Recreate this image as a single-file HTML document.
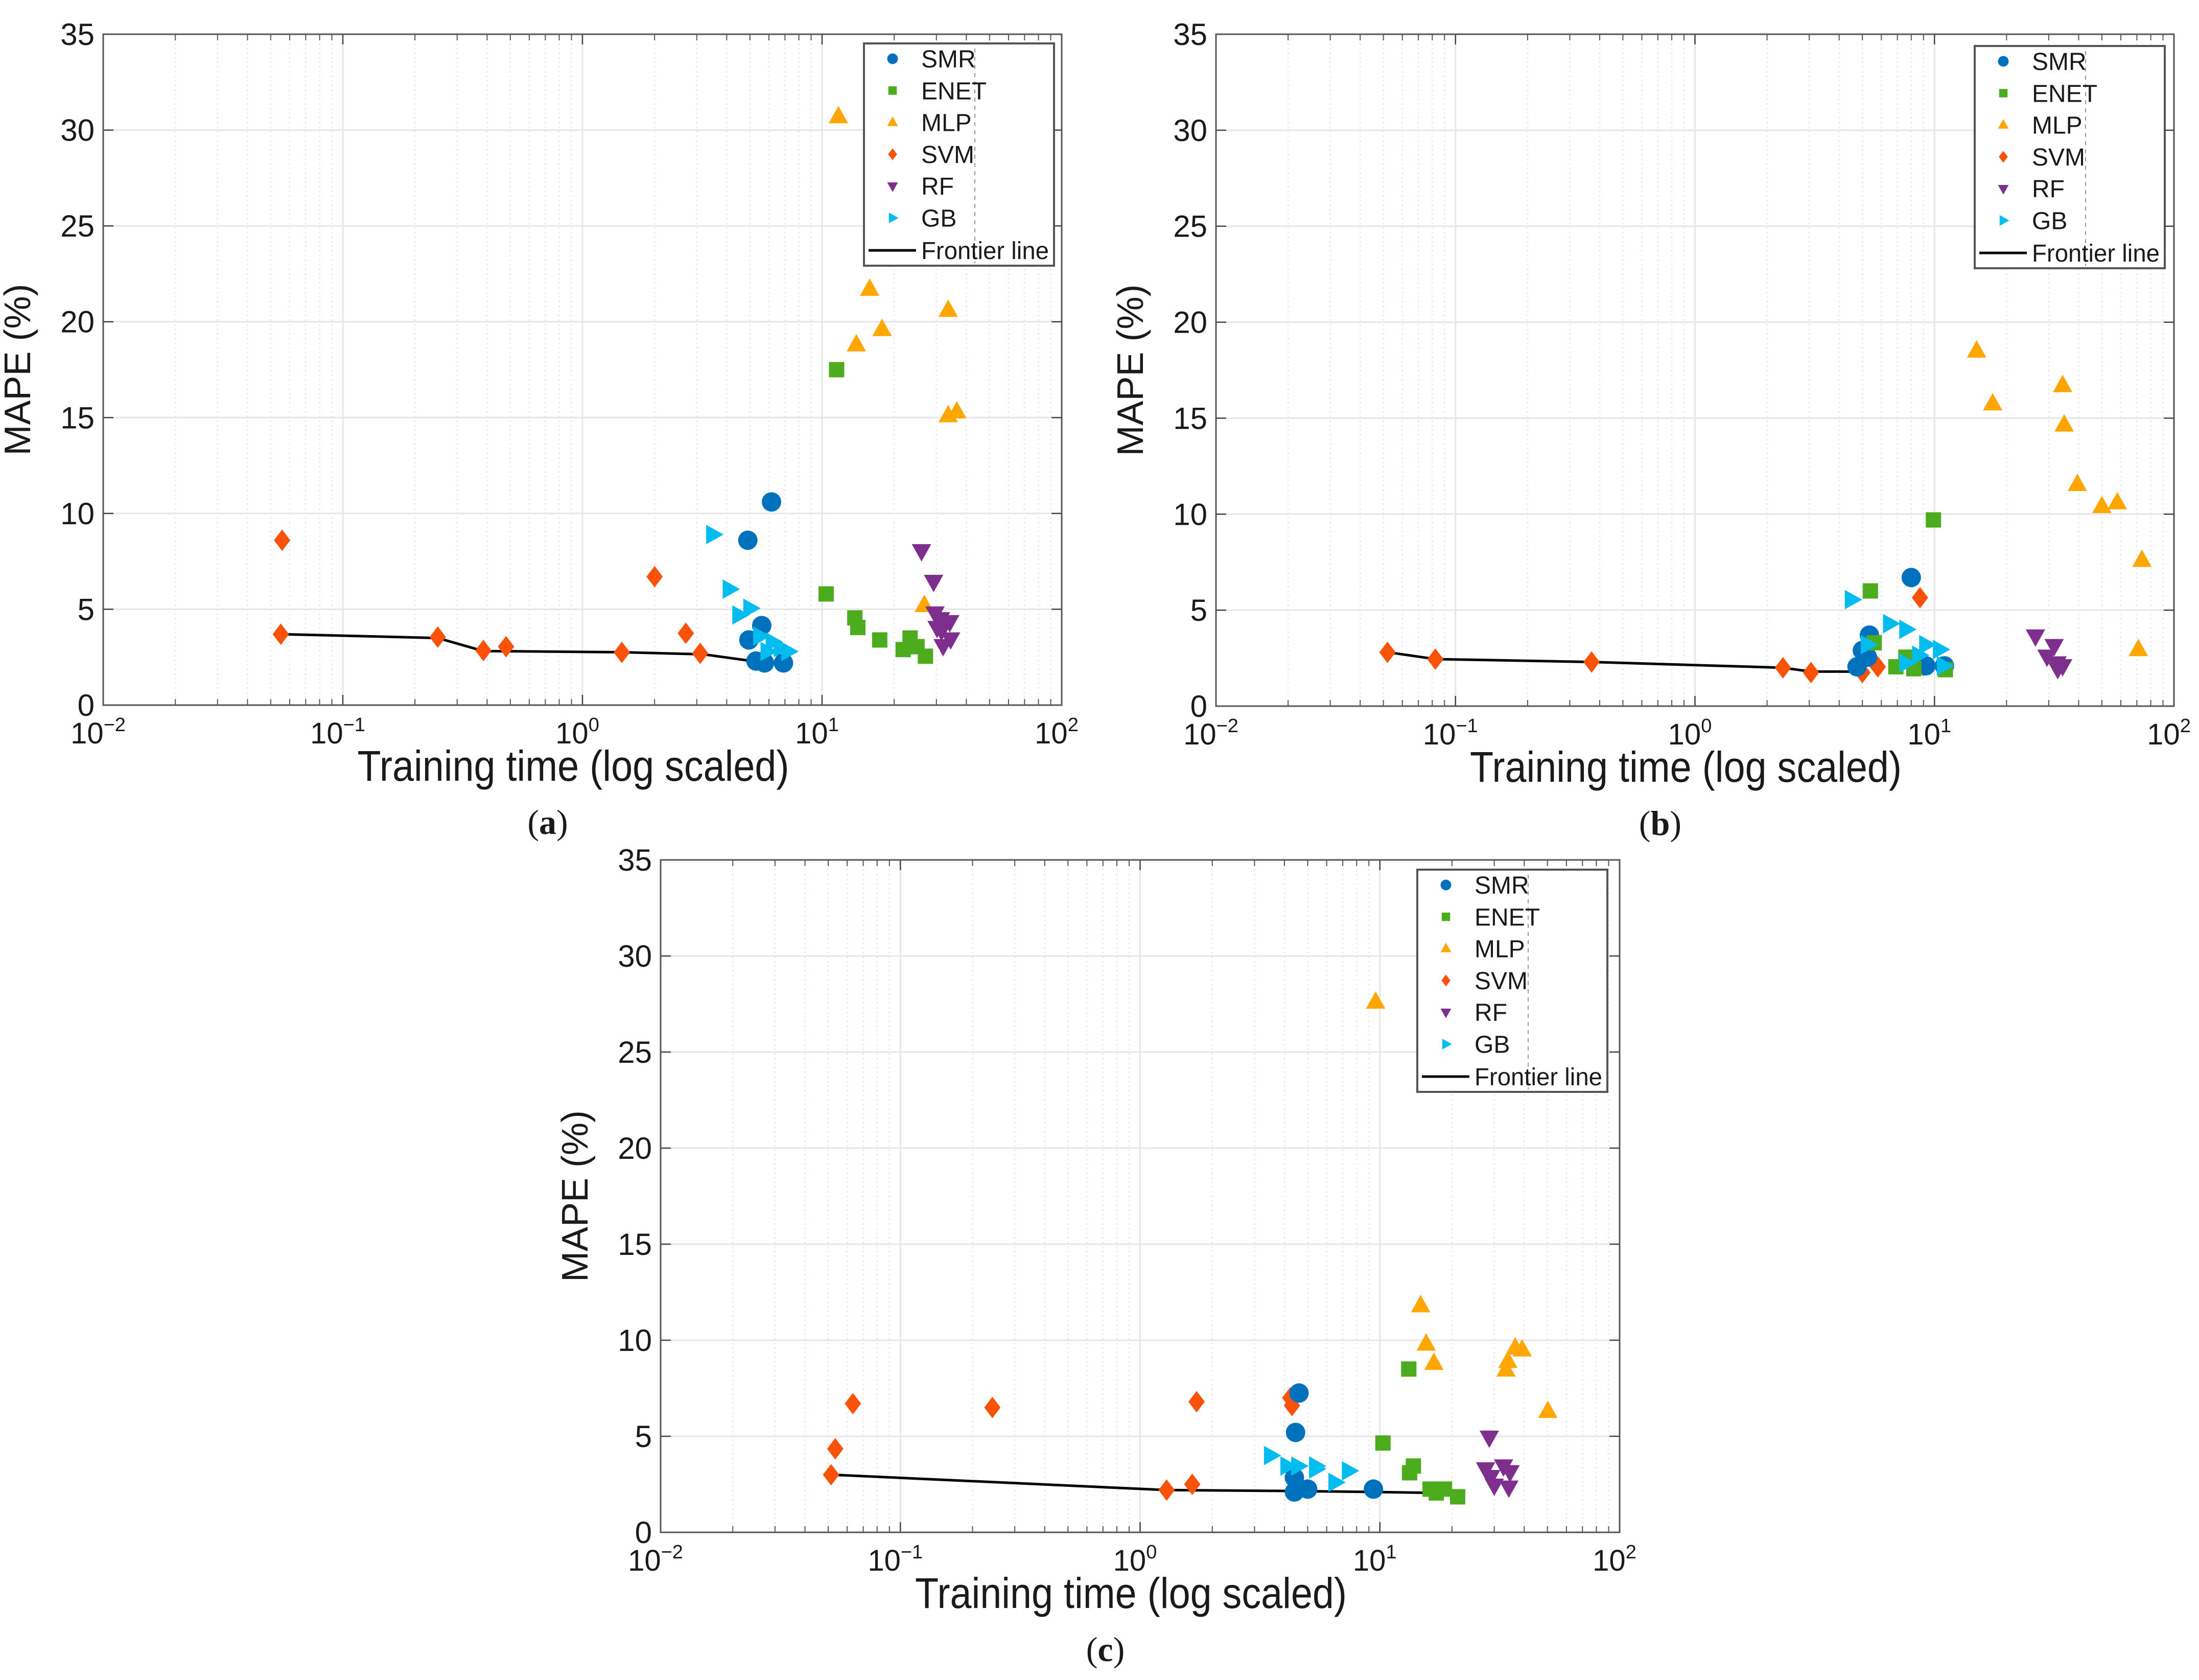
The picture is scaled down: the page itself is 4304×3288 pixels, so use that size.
<!DOCTYPE html>
<html><head><meta charset="utf-8"><style>
html,body{margin:0;padding:0;background:#fff;}
svg{display:block;}
text{font-family:"Liberation Sans Narrow","Liberation Sans",sans-serif;fill:#1a1a1a;}
.lg{font-family:"Liberation Sans",sans-serif;}
.ser{font-family:"Liberation Serif",serif;}
</style></head><body>
<svg id="root" width="4304" height="3288" viewBox="0 0 4304 3288" xmlns="http://www.w3.org/2000/svg"></svg>
<script>
// ---- Panel (a) data ----
const aSMRx=[6.15,4.9,5.6,4.95,5.3,5.75,6.9];
const aSMRy=[10.6,8.6,4.15,3.4,2.3,2.2,2.2];
const aENETx=[11.5,10.4,13.7,14.1,17.4,21.8,23.3,24.9,27];
const aENETy=[17.5,5.8,4.55,4.05,3.4,2.9,3.5,3.05,2.55];
const aMLPx=[11.7,15.8,13.9,17.8,33.6,33.6,36.5,26.7];
const aMLPy=[30.7,21.7,18.8,19.6,20.6,15.1,15.3,5.2];
const aSVMx=[0.0558,0.0551,0.249,0.386,0.48,1.46,2.0,2.7,3.1];
const aSVMy=[8.6,3.7,3.55,2.85,3.05,2.75,6.7,3.75,2.7];
const aRFx=[26,29.2,29.6,31.2,30.2,34.1,32,34.4,31.5];
const aRFy=[8.05,6.45,4.8,4.5,4.05,4.35,3.1,3.45,3.9];
const aGBx=[3.5,4.1,5,4.5,5.5,6.2,6.7,7.2,5.9];
const aGBy=[8.9,6.05,5.05,4.7,3.6,3.3,3.0,2.8,2.8];
const aFRx=[0.0555,0.249,0.386,1.46,3.2,5.1,6.9];
const aFRy=[3.7,3.5,2.82,2.76,2.65,2.3,2.2];
// ---- Panel (b) data ----
const bSMRx=[8.0,5.35,5.0,5.25,4.75,9.2,11];
const bSMRy=[6.7,3.7,2.9,2.55,2.05,2.1,2.1];
const bENETx=[9.9,5.4,5.6,7.6,6.9,8.2,11.1];
const bENETy=[9.7,6.0,3.3,2.55,2.05,1.95,1.9];
const bMLPx=[15,17.5,34.3,34.8,39.5,50,58,73.5,71];
const bMLPy=[18.5,15.75,16.7,14.65,11.55,10.4,10.6,7.6,2.95];
const bSVMx=[0.052,0.0824,0.37,2.33,3.05,5.0,5.8,8.7,9];
const bSVMy=[2.8,2.45,2.3,2.0,1.75,1.75,2.05,5.65,2.1];
const bRFx=[26.4,31.6,29.5,32.5,34.3,32.7];
const bRFy=[3.65,3.15,2.6,2.25,2.1,1.95];
const bGBx=[4.5,6.5,7.6,5.25,9.2,10.5,8.6,7.6,10.9];
const bGBy=[5.55,4.3,4.0,3.2,3.2,2.95,2.65,2.25,2.1];
const bFRx=[0.0527,0.0824,0.37,2.33,3.05,4.9];
const bFRy=[2.8,2.45,2.3,2.0,1.8,1.8];
// ---- Panel (c) data ----
const cSMRx=[4.6,4.45,4.4,4.4,5.0,9.4];
const cSMRy=[7.25,5.2,2.85,2.1,2.25,2.25];
const cENETx=[13.2,10.3,13.8,13.3,16.2,17.2,18.6,21.1];
const cENETy=[8.5,4.65,3.45,3.1,2.25,2.05,2.25,1.85];
const cMLPx=[9.6,14.8,15.6,16.8,33.6,34.2,36.7,39.2,50.2];
const cMLPy=[27.6,11.8,9.8,8.8,8.45,8.9,9.6,9.5,6.3];
const cSVMx=[0.0514,0.0535,0.0634,0.242,1.29,1.65,1.72,4.23,4.3];
const cSVMy=[3.0,4.35,6.7,6.5,2.2,2.5,6.8,7.0,6.6];
const cRFx=[28.6,27.6,30.0,32.8,34.5,34.9,29];
const cRFy=[4.95,3.3,2.45,3.45,2.35,3.15,2.9];
const cGBx=[3.5,4.1,4.55,5.4,6.5,7.4,5.4];
const cGBy=[4.0,3.45,3.45,3.45,2.6,3.2,3.3];
const cFRx=[0.0517,1.29,4.4,9.4,17.2,21.1];
const cFRy=[3.0,2.2,2.15,2.1,2.05,1.85];

const yTicks=[0,5,10,15,20,25,30,35];
const xTickExp=[-2,-1,0,1,2];
const seriesNames=["SMR","ENET","MLP","SVM","RF","GB"];
const colors={SMR:"#0072BD",ENET:"#4DAC1E",MLP:"#FFA600",SVM:"#FA5208",RF:"#7E2F8E",GB:"#00BCEF"};

const NS="http://www.w3.org/2000/svg";
const root=document.getElementById('root');
function mk(tag,attrs,parent){const e=document.createElementNS(NS,tag);for(const k in attrs)e.setAttribute(k,attrs[k]);(parent||root).appendChild(e);return e;}

function marker(g,type,cx,cy,s){
  const c=colors[type];let e;
  if(type==="SMR"){e=mk('circle',{cx:cx,cy:cy,r:19*s,fill:c},g);}
  else if(type==="ENET"){e=mk('rect',{x:cx-15*s,y:cy-15*s,width:30*s,height:30*s,fill:c},g);}
  else if(type==="MLP"){e=mk('polygon',{points:`${cx},${cy-21*s} ${cx+19*s},${cy+13*s} ${cx-19*s},${cy+13*s}`,fill:c},g);}
  else if(type==="SVM"){e=mk('polygon',{points:`${cx},${cy-21*s} ${cx+16*s},${cy} ${cx},${cy+21*s} ${cx-16*s},${cy}`,fill:c},g);}
  else if(type==="RF"){e=mk('polygon',{points:`${cx-19*s},${cy-13*s} ${cx+19*s},${cy-13*s} ${cx},${cy+21*s}`,fill:c},g);}
  else {e=mk('polygon',{points:`${cx-13*s},${cy-19*s} ${cx+21*s},${cy} ${cx-13*s},${cy+19*s}`,fill:c},g);}
  return e;
}

function panel(id,L,R,T,B,data,label,leg){
  const g=mk('g',{});
  
  
  const X=v=>L+(Math.log10(v)+2)/4*(R-L);
  const Y=v=>B-v/35*(B-T);
  for(let e=-2;e<2;e++)for(let m=2;m<10;m++){
    const x=X(m*Math.pow(10,e));
    mk('line',{x1:x,y1:T,x2:x,y2:B,stroke:"#e8e8e8","stroke-width":2.5,"stroke-dasharray":"3 6"},g);
    mk('line',{x1:x,y1:B,x2:x,y2:B-12,stroke:"#555","stroke-width":2},g);
    mk('line',{x1:x,y1:T,x2:x,y2:T+12,stroke:"#555","stroke-width":2},g);
  }
  xTickExp.forEach(e=>{const x=X(Math.pow(10,e));
    mk('line',{x1:x,y1:T,x2:x,y2:B,stroke:"#e6e6e6","stroke-width":3},g);
    mk('line',{x1:x,y1:B,x2:x,y2:B-20,stroke:"#444","stroke-width":2.5},g);
    mk('line',{x1:x,y1:T,x2:x,y2:T+20,stroke:"#444","stroke-width":2.5},g);
    const t=mk('text',{x:x-10,y:B+75,"font-size":58,"text-anchor":"middle"},g);
    
    
    t.appendChild(document.createTextNode('10'));
    const sp=mk('tspan',{"font-size":38,dy:-24},t);sp.textContent=(e<0?'\u2212':'')+Math.abs(e);
  });
  yTicks.forEach(v=>{const y=Y(v);
    mk('line',{x1:L,y1:y,x2:R,y2:y,stroke:"#e6e6e6","stroke-width":3},g);
    mk('line',{x1:L,y1:y,x2:L+20,y2:y,stroke:"#444","stroke-width":2.5},g);
    mk('line',{x1:R,y1:y,x2:R-20,y2:y,stroke:"#444","stroke-width":2.5},g);
    const t=mk('text',{x:L-17,y:y+21,"font-size":60,"text-anchor":"end"},g);
    
    
    t.textContent=v;
  });
  const fr=mk('rect',{x:L,y:T,width:R-L,height:B-T,fill:"none",stroke:"#555","stroke-width":3},g);
  
  
  const fx=data.FRx,fy=data.FRy;
  const pl=mk('polyline',{points:fx.map((v,i)=>X(v)+','+Y(fy[i])).join(' '),fill:"none",stroke:"#000","stroke-width":5},g);
  
  
  const order=["SVM","SMR","ENET","MLP","RF","GB"];
  order.forEach(s=>{
    data[s+'x'].forEach((v,i)=>{
      const m=marker(g,s,X(v),Y(data[s+'y'][i]),1);
      
      
    });
  });
  const lg=mk('g',{},g);
  
  
  mk('rect',{x:leg[0],y:leg[1],width:372,height:435,fill:"#fff",stroke:"#555","stroke-width":4},lg);
  mk('line',{x1:leg[0]+217,y1:leg[1]+10,x2:leg[0]+217,y2:leg[1]+430,stroke:"#999","stroke-width":2,"stroke-dasharray":"8 8"},lg);
  seriesNames.forEach((s,i)=>{
    const cy=leg[1]+30+i*62.3;
    marker(lg,s,leg[0]+56,cy,0.55);
    const t=mk('text',{x:leg[0]+112,y:cy+17,"font-size":48,class:"lg"},lg);
    
    
    t.textContent=s;
  });
  const fy0=leg[1]+405;
  mk('line',{x1:leg[0]+9,y1:fy0,x2:leg[0]+102,y2:fy0,stroke:"#000","stroke-width":5},lg);
  const ft=mk('text',{x:leg[0]+112,y:fy0+17,"font-size":48,class:"lg",textLength:250,lengthAdjust:"spacingAndGlyphs"},lg);
  
  
  ft.textContent="Frontier line";
  const xt=mk('text',{x:(L+R)/2-18,y:B+148,"font-size":84,"text-anchor":"middle",textLength:845,lengthAdjust:"spacingAndGlyphs"},g);
  
  
  xt.textContent="Training time (log scaled)";
  const yx=L-143,yy=(T+B)/2;
  const yt=mk('text',{x:yx,y:yy,"font-size":72,"text-anchor":"middle",class:"lg",transform:`rotate(-90 ${yx} ${yy})`},g);
  
  
  yt.textContent="MAPE (%)";
  const pt=mk('text',{x:(L+R)/2-68,y:B+252,"font-size":68,"text-anchor":"middle",class:"ser"},g);
  
  
  pt.appendChild(document.createTextNode('('));
  const bb=mk('tspan',{"font-weight":"bold"},pt);bb.textContent=label;
  pt.appendChild(document.createTextNode(')'));
}
panel('a',202,2078,67,1380,{SMRx:aSMRx,SMRy:aSMRy,ENETx:aENETx,ENETy:aENETy,MLPx:aMLPx,MLPy:aMLPy,SVMx:aSVMx,SVMy:aSVMy,RFx:aRFx,RFy:aRFy,GBx:aGBx,GBy:aGBy,FRx:aFRx,FRy:aFRy},'a',[1691,85]);
panel('b',2380,4255,67,1382,{SMRx:bSMRx,SMRy:bSMRy,ENETx:bENETx,ENETy:bENETy,MLPx:bMLPx,MLPy:bMLPy,SVMx:bSVMx,SVMy:bSVMy,RFx:bRFx,RFy:bRFy,GBx:bGBx,GBy:bGBy,FRx:bFRx,FRy:bFRy},'b',[3865,90]);
panel('c',1293,3170,1683,2999,{SMRx:cSMRx,SMRy:cSMRy,ENETx:cENETx,ENETy:cENETy,MLPx:cMLPx,MLPy:cMLPy,SVMx:cSVMx,SVMy:cSVMy,RFx:cRFx,RFy:cRFy,GBx:cGBx,GBy:cGBy,FRx:cFRx,FRy:cFRy},'c',[2774,1702]);
</script>
</body></html>
